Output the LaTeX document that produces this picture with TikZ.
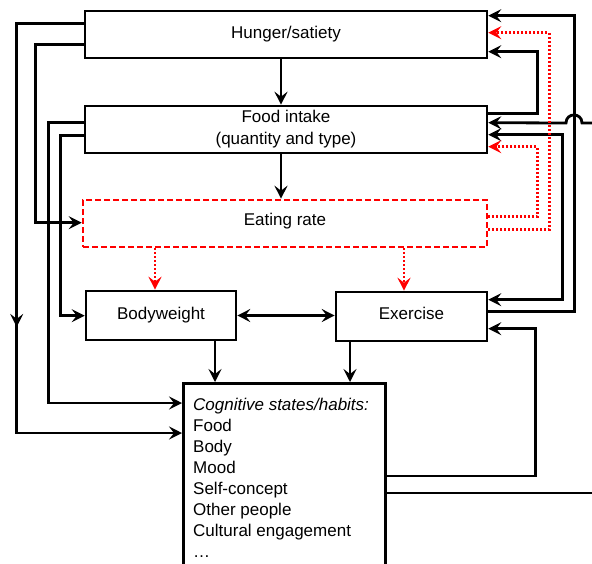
\documentclass[tikz,border=0pt]{standalone}
\usepackage{fontspec}
\setmainfont{Liberation Sans}
\usetikzlibrary{arrows.meta,calc,decorations.markings}
\begin{document}
\begin{tikzpicture}[x=1pt,y=-1pt,
  >={Stealth[length=13pt,width=13pt,inset=5pt]},
  box/.style={draw, line width=2.6pt, minimum height=47pt, inner sep=0pt,
    font=\fontsize{17}{22}\selectfont, align=center},
  conn/.style={->, line width=2.8pt},
  rconn/.style={->, draw=red, line width=2.8pt, dash pattern=on 2pt off 2pt},
  plain/.style={line width=2.8pt}
]
\useasboundingbox (0,0) rectangle (592,563);
\clip (0,0) rectangle (592,563);
\fill[white] (0,0) rectangle (592,563);

% boxes
\node[box, minimum width=402pt] (hunger) at (286,34.5) {Hunger/satiety};
\node[box, minimum width=402pt] (food) at (286,129.5) {Food intake\\(quantity and type)};
\node[box, minimum width=404pt, draw=red, dash pattern=on 6pt off 3pt, text depth=8pt] (eat) at (285,223.5) {Eating rate};
\node[box, minimum width=150pt, minimum height=49pt] (bw) at (161,315.5) {Bodyweight};
\node[box, minimum width=151pt, minimum height=49pt, text depth=7pt] (ex) at (411.5,316.5) {Exercise};
\node[draw, line width=2.6pt, minimum width=202pt, minimum height=220pt, anchor=north west, inner sep=0pt] (cog) at (182,382) {};
\node[anchor=north west, inner sep=0pt, align=left, font=\fontsize{17}{21}\selectfont] (cogtext) at (193,398)
  {\textit{Cognitive states/habits:}\\Food\\Body\\Mood\\Self-concept\\Other people\\Cultural engagement\\\dots};

% left connectors
\draw[conn, postaction={decorate},
  decoration={markings, mark=at position 0.577 with {\arrow{>}}}]
  ([yshift=-14pt]hunger.north west) -- ++(-67,0) |- ([yshift=-51pt]cog.north west);
\draw[conn] ([yshift=-35pt]hunger.north west) -- ++(-48,0) |- ([yshift=-24pt]eat.north west);
\draw[conn] ([yshift=-18pt]food.north west) -- ++(-35,0) |- ([yshift=-21pt]cog.north west);
\draw[conn] ([yshift=-31pt]food.north west) -- ++(-23,0) |- ([yshift=-26pt]bw.north west);

% centre connectors
\draw[conn] ([xshift=-5pt]hunger.south) -- ([xshift=-5pt]food.north);
\draw[conn] ([xshift=-5pt]food.south) -- ([xshift=-5pt]food.south |- eat.north);
\draw[conn, <->] (bw.east) -- (bw.east -| ex.west);
\draw[conn] ([xshift=54pt]bw.south) -- ([xshift=54pt]bw.south |- cog.north);
\draw[conn] ([xshift=-61.5pt]ex.south) -- ([xshift=-61.5pt]ex.south |- cog.north);

% right connectors
\draw[conn] ([yshift=-21pt]ex.north east) -- ++(86,0) |- ([yshift=-6pt]hunger.north east);
\draw[conn] ([yshift=-9pt]food.north east) -- ++(49,0) |- ([yshift=-42pt]hunger.north east);
\draw[conn, <->] ([yshift=-30pt]food.north east) -| ([xshift=74pt,yshift=-9pt]ex.north east) -- ([yshift=-9pt]ex.north east);
\coordinate (edgeA) at (592,123);
\draw[conn] (edgeA) -- (582,123) .. controls (582,112.3) and (566,112.3) .. (566,123) -- ([yshift=-18pt]food.north east);
\coordinate (edgeB) at (592,493);
\draw[plain] ([yshift=-111pt]cog.north east) -- (edgeB);
\draw[conn] ([yshift=-94pt]cog.north east) -- ++(149,0) |- ([yshift=-38pt]ex.north east);

% red dotted connectors
\draw[rconn] ([xshift=-6pt]bw.north |- eat.south) -- ([xshift=-6pt]bw.north);
\draw[rconn] ([xshift=-7.5pt]ex.north |- eat.south) -- ([xshift=-7.5pt]ex.north);
\draw[rconn] ([yshift=-18pt]eat.north east) -- ++(49,0) |- ([yshift=-42pt]food.north east);
\draw[rconn] ([yshift=-31pt]eat.north east) -- ++(61,0) |- ([yshift=-23pt]hunger.north east);
\end{tikzpicture}
\end{document}
